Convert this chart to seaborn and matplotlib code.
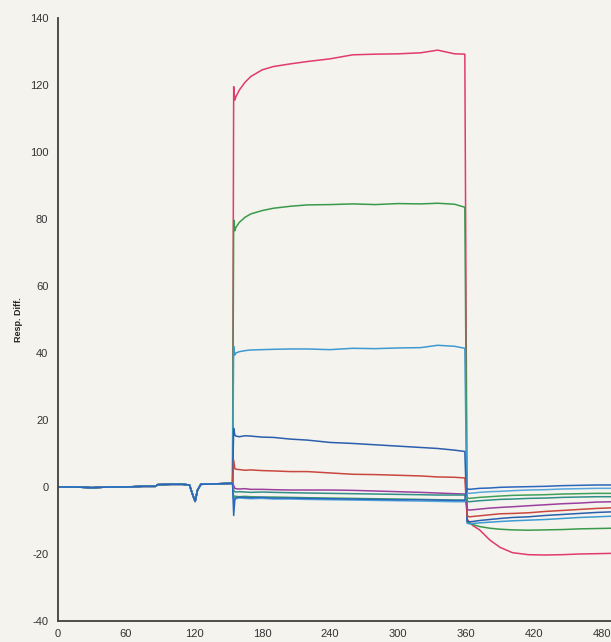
import numpy as np
import pandas as pd
import matplotlib
matplotlib.use("Agg")
import matplotlib.pyplot as plt
from matplotlib.ticker import MultipleLocator
import seaborn as sns

# time points (s)
t_base = [0, 15, 30, 45, 60, 75, 86, 88, 100, 110, 116, 119, 121, 123, 126,
          135, 145, 154]
t_assoc = [155, 156, 157, 160, 165, 170, 180, 190, 205, 220, 240, 260, 280,
           300, 320, 335, 350, 359]
t_dissoc = [361, 363, 366, 372, 381, 390, 401, 415, 430, 445, 460, 475, 490]

# baseline is shared by every cycle (injection spike dip near 120 s)
baseline = [0, 0, -0.2, 0, 0, 0.2, 0.2, 0.7, 0.8, 0.8, 0.6, -2.5, -4.3, -1.0,
            0.8, 0.9, 1.0, 1.1]

curve_names = ["c1", "c2", "c3", "c4", "c5", "c6", "c7", "c8", "c9", "c10"]

assoc = {
    "c1": [119.5, 115.5, 116.5, 118.5, 120.8, 122.5, 124.5, 125.5, 126.3, 127,
           127.8, 129, 129.2, 129.3, 129.6, 130.4, 129.3, 129.2],
    "c2": [79.7, 76.5, 77.5, 79, 80.5, 81.5, 82.5, 83.2, 83.8, 84.2, 84.3,
           84.5, 84.3, 84.6, 84.5, 84.7, 84.4, 83.5],
    "c3": [42, 39.4, 40, 40.4, 40.7, 40.9, 41, 41.1, 41.2, 41.2, 41, 41.4,
           41.3, 41.5, 41.6, 42.3, 42, 41.4],
    "c4": [17.5, 15.5, 15.2, 15, 15.3, 15.2, 14.9, 14.8, 14.3, 14, 13.3, 13,
           12.6, 12.2, 11.8, 11.5, 11, 10.6],
    "c5": [8, 5.5, 5.3, 5.2, 5.0, 5.1, 4.9, 4.8, 4.6, 4.6, 4.2, 3.8, 3.7, 3.5,
           3.3, 3.0, 2.9, 2.7],
    "c6": [0.5, -0.4, -0.5, -0.6, -0.5, -0.7, -0.7, -0.8, -0.9, -0.9, -0.9,
           -1.0, -1.2, -1.4, -1.6, -1.8, -2.0, -2.1],
    "c7": [-1, -1.4, -1.5, -1.4, -1.5, -1.6, -1.5, -1.6, -1.7, -1.8, -1.9,
           -2.0, -2.1, -2.2, -2.3, -2.4, -2.4, -2.4],
    "c8": [-3.5, -2.7, -2.8, -2.9, -2.8, -2.9, -3.0, -3.0, -3.1, -3.2, -3.3,
           -3.4, -3.5, -3.6, -3.7, -3.8, -3.9, -3.9],
    "c9": [-4, -3.4, -3.5, -3.3, -3.4, -3.5, -3.4, -3.6, -3.6, -3.7, -3.8,
           -3.9, -4.0, -4.1, -4.2, -4.3, -4.4, -4.4],
    "c10": [-8.5, -3.8, -3.2, -3.0, -3.1, -3.2, -3.1, -3.3, -3.3, -3.4, -3.5,
            -3.6, -3.7, -3.8, -3.8, -3.9, -4.0, -4.0],
}

dissoc = {
    "c1": [-9.5, -10.5, -11.5, -12.8, -15.8, -18, -19.6, -20.2, -20.3, -20.2,
           -20, -19.9, -19.8],
    "c2": [-10.5, -10.8, -11.2, -11.8, -12.3, -12.6, -12.8, -12.9, -12.8,
           -12.7, -12.5, -12.4, -12.3],
    "c3": [-10.8, -11, -10.9, -10.7, -10.5, -10.3, -10.1, -9.9, -9.7, -9.4,
           -9.1, -8.9, -8.7],
    "c4": [-10.2, -10.4, -10.3, -10.0, -9.7, -9.4, -9.1, -8.9, -8.5, -8.2,
           -7.9, -7.6, -7.4],
    "c5": [-8.6, -8.9, -8.8, -8.6, -8.3, -8.0, -7.9, -7.7, -7.3, -7.0, -6.7,
           -6.4, -6.2],
    "c6": [-6.6, -6.9, -6.8, -6.6, -6.3, -6.1, -5.9, -5.6, -5.3, -5.0, -4.8,
           -4.5, -4.4],
    "c7": [-4.2, -4.4, -4.3, -4.1, -3.9, -3.7, -3.6, -3.4, -3.3, -3.1, -3.0,
           -2.9, -2.9],
    "c8": [-3.2, -3.4, -3.3, -3.1, -2.9, -2.7, -2.5, -2.4, -2.3, -2.1, -2.0,
           -1.9, -1.9],
    "c9": [-1.7, -1.9, -1.8, -1.6, -1.4, -1.3, -1.1, -0.9, -0.8, -0.6, -0.5,
           -0.4, -0.4],
    "c10": [-0.5, -0.7, -0.6, -0.4, -0.3, -0.1, 0.0, 0.1, 0.2, 0.4, 0.5, 0.6,
            0.6],
}

colors = {
    "c1": "#e23a6e", "c2": "#3a9a4c", "c3": "#3d9ad0", "c4": "#2a5fae",
    "c5": "#c9473e", "c6": "#9a3f9e", "c7": "#2f8f86", "c8": "#3fa05a",
    "c9": "#57a6dc", "c10": "#2a66bd",
}


def build_frame():
    rows = []
    times = t_base + t_assoc + t_dissoc
    for name in curve_names:
        values = baseline + assoc[name] + dissoc[name]
        rows.append(pd.DataFrame({"Time": times, "Resp": values,
                                  "Curve": name}))
    return pd.concat(rows, ignore_index=True)


def main():
    data = build_frame()
    bg = "#f4f3ee"

    sns.set_style("white")
    plt.rcParams["font.family"] = ["Liberation Sans", "DejaVu Sans"]
    plt.rcParams["axes.unicode_minus"] = False

    fig = plt.figure(figsize=(6.11, 6.42), dpi=100, facecolor=bg)
    ax = fig.add_axes([0.095, 0.0327, 0.905, 0.9393])
    ax.set_facecolor(bg)

    sns.lineplot(data=data, x="Time", y="Resp", hue="Curve",
                 hue_order=curve_names, palette=colors, estimator=None,
                 sort=False, linewidth=1.1, legend=False, ax=ax)

    ax.set_xlim(0, 488)
    ax.set_ylim(-40, 140)
    ax.xaxis.set_major_locator(MultipleLocator(60))
    ax.xaxis.set_minor_locator(MultipleLocator(30))
    ax.yaxis.set_major_locator(MultipleLocator(20))
    ax.yaxis.set_minor_locator(MultipleLocator(10))

    for side in ["top", "right"]:
        ax.spines[side].set_visible(False)
    for side in ["left", "bottom"]:
        ax.spines[side].set_color("#404040")
        ax.spines[side].set_linewidth(1.3)

    ax.tick_params(which="major", direction="inout", length=6, width=1.1,
                   color="#404040", labelsize=8, labelcolor="#333333")
    ax.tick_params(which="minor", direction="inout", length=4, width=1.0,
                   color="#404040")
    ax.tick_params(axis="x", which="major", pad=3)
    ax.tick_params(axis="y", which="major", pad=4)

    ax.set_xlabel("")
    ax.set_ylabel("Resp. Diff.", fontsize=6.5, fontweight="bold",
                  labelpad=5)

    fig.savefig("out.png", dpi=100, facecolor=bg)


if __name__ == "__main__":
    main()
